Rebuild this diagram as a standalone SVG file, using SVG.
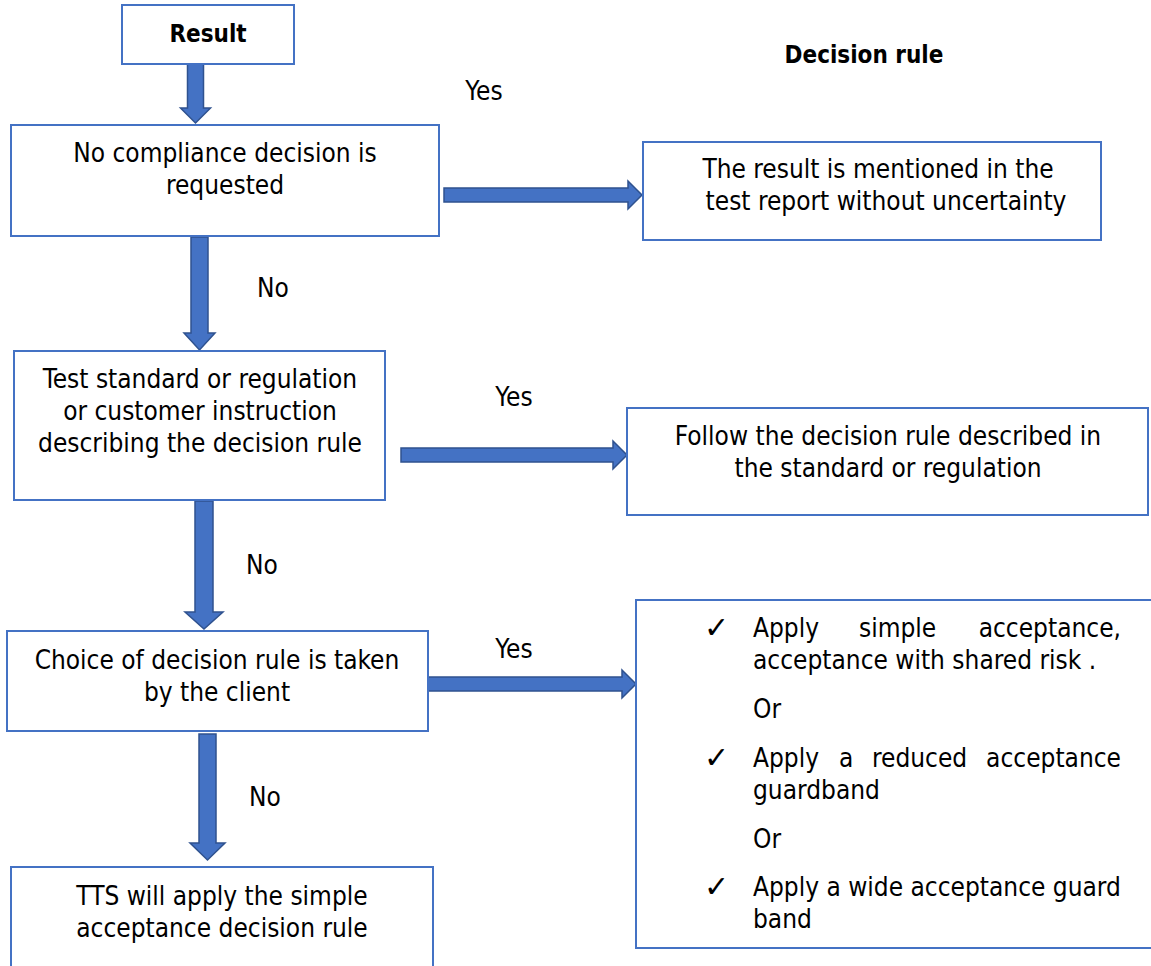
<svg xmlns="http://www.w3.org/2000/svg" width="1151" height="966" viewBox="0 0 1151 966">
<style>
.box{fill:#fff;stroke:#4472C4;stroke-width:2}
.arr{fill:#4472C4;stroke:#2F528F;stroke-width:1.5;stroke-linejoin:miter}
text{font-family:"DejaVu Sans Condensed","DejaVu Sans",sans-serif;font-size:26px;fill:#000}
.c{text-anchor:middle}
.b{font-weight:bold;font-size:24px}
.e{text-anchor:end}
.ck{font-family:"DejaVu Sans",sans-serif;font-size:30px}
</style>
<rect width="1151" height="966" fill="#fff"/>
<g id="connectors">
<path class="arr" d="M187.5,64 H203.5 V108 H210.5 L195.5,123 L180.5,108 H187.5 Z"/>
<path class="arr" d="M191,237 H208 V333 H215 L199.5,350 L184,333 H191 Z"/>
<path class="arr" d="M195,501 H213 V612 H223 L204,629 L185,612 H195 Z"/>
<path class="arr" d="M199,734 H216 V843 H225 L207.5,860 L190,843 H199 Z"/>
<path class="arr" d="M444,188 H628 V181 L642,195 L628,209 V202 H444 Z"/>
<path class="arr" d="M401,448 H613 V441 L627,455 L613,469 V462 H401 Z"/>
<path class="arr" d="M426,677 H622 V670 L636,684 L622,698 V691 H426 Z"/>
<text x="484" y="100" class="c">Yes</text>
<text x="273" y="297" class="c">No</text>
<text x="514" y="406" class="c">Yes</text>
<text x="262" y="574" class="c">No</text>
<text x="514" y="658" class="c">Yes</text>
<text x="265" y="806" class="c">No</text>
</g>
<g id="result">
<rect class="box" x="122" y="5" width="172" height="59"/>
<text x="208" y="42" class="c b">Result</text>
</g>
<g id="header">
<text x="864" y="63" class="c b">Decision rule</text>
</g>
<g id="n1">
<rect class="box" x="11" y="125" width="428" height="111"/>
<text x="225" y="162" class="c">No compliance decision is</text>
<text x="225" y="194" class="c">requested</text>
</g>
<g id="n2">
<rect class="box" x="643" y="142" width="458" height="98"/>
<text x="878" y="178" class="c">The result is mentioned in the</text>
<text x="886" y="210" class="c">test report without uncertainty</text>
</g>
<g id="n3">
<rect class="box" x="14" y="351" width="371" height="149"/>
<text x="200" y="388" class="c">Test standard or regulation</text>
<text x="200" y="420" class="c">or customer instruction</text>
<text x="200" y="452" class="c">describing the decision rule</text>
</g>
<g id="n4">
<rect class="box" x="627" y="408" width="521" height="107"/>
<text x="888" y="445" class="c">Follow the decision rule described in</text>
<text x="888" y="477" class="c">the standard or regulation</text>
</g>
<g id="n5">
<rect class="box" x="7" y="631" width="421" height="100"/>
<text x="217" y="669" class="c">Choice of decision rule is taken</text>
<text x="217" y="701" class="c">by the client</text>
</g>
<g id="n6">
<rect class="box" x="636" y="600" width="520" height="348"/>
<text x="704" y="638" class="ck">✓</text>
<text x="753" y="637">Apply</text>
<text x="859" y="637">simple</text>
<text x="1121" y="637" class="e">acceptance,</text>
<text x="753" y="669">acceptance with shared risk .</text>
<text x="753" y="718">Or</text>
<text x="704" y="768" class="ck">✓</text>
<text x="753" y="767">Apply</text>
<text x="839" y="767">a</text>
<text x="872" y="767">reduced</text>
<text x="1121" y="767" class="e">acceptance</text>
<text x="753" y="799">guardband</text>
<text x="753" y="848">Or</text>
<text x="704" y="897" class="ck">✓</text>
<text x="753" y="896">Apply a wide acceptance guard</text>
<text x="753" y="928">band</text>
</g>
<g id="n7">
<rect class="box" x="11" y="867" width="422" height="110"/>
<text x="222" y="905" class="c">TTS will apply the simple</text>
<text x="222" y="937" class="c">acceptance decision rule</text>
</g>
</svg>
